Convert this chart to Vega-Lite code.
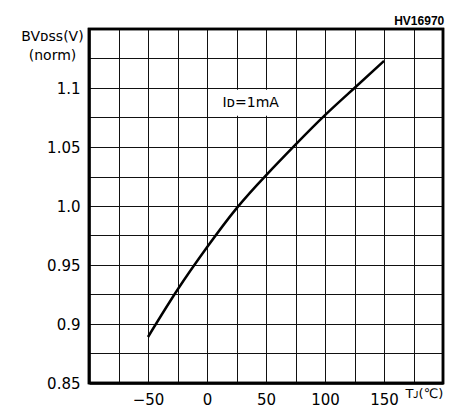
{
  "$schema": "https://vega.github.io/schema/vega-lite/v6.json",
  "width": 354,
  "height": 354,
  "autosize": "none",
  "padding": {"left": 89, "top": 29, "right": 10, "bottom": 33},
  "background": "white",
  "title": {"text": "HV16970", "anchor": "end", "fontSize": 12, "fontWeight": "bold", "font": "Liberation Sans", "offset": 0, "color": "black"},
  "config": {
    "view": {"stroke": "black", "strokeWidth": 2.5},
    "axis": {"labelFont": "DejaVu Sans", "labelFontSize": 15, "labelColor": "black", "titleFont": "DejaVu Sans", "titleFontWeight": "normal", "titleColor": "black", "grid": true, "gridColor": "#111", "gridWidth": 1, "gridOpacity": 1, "ticks": false, "domain": true, "domainColor": "black", "domainWidth": 2.5}
  },
  "datasets": {
    "curve": [
      {"t": -50, "bv": 0.889},
      {"t": -25, "bv": 0.929},
      {"t": 0, "bv": 0.965},
      {"t": 25, "bv": 0.998},
      {"t": 50, "bv": 1.026},
      {"t": 75, "bv": 1.052},
      {"t": 100, "bv": 1.077},
      {"t": 125, "bv": 1.1},
      {"t": 150, "bv": 1.123}
    ],
    "box": [{"t": 12, "t2": 70, "bv": 1.0765, "bv2": 1.0985}],
    "frame": [{"t": -100, "t2": 200, "bv": 0.85, "bv2": 1.15}],
    "note": [{"t": 37, "bv": 1.0875, "label": "Iᴅ=1mA"}]
  },
  "encoding": {
    "x": {"field": "t", "type": "quantitative", "scale": {"domain": [-100, 200], "nice": false, "zero": false},
      "axis": {"values": [-100, -75, -50, -25, 0, 25, 50, 75, 100, 125, 150, 175, 200], "labelFlush": false, "labelPadding": 9,
        "labelExpr": "(datum.value % 50 == 0 && datum.value >= -50 && datum.value <= 150) ? format(datum.value, 'd') : ''",
        "title": "Tᴊ(℃)", "titleFontSize": 13, "titleAnchor": "start", "titleAlign": "left", "titleBaseline": "middle", "titleX": 316, "titleY": 10}},
    "y": {"field": "bv", "type": "quantitative", "scale": {"domain": [0.85, 1.15], "nice": false, "zero": false},
      "axis": {"values": [0.85, 0.875, 0.9, 0.925, 0.95, 0.975, 1, 1.025, 1.05, 1.075, 1.1, 1.125, 1.15], "labelFlush": false, "labelPadding": 9,
        "labelExpr": "(datum.value > 1.14 || round(datum.value * 1000) % 50 != 0) ? '' : (abs(datum.value - 1) < 0.001 ? '1.0' : format(datum.value, '.2~f'))",
        "title": ["BVᴅꜱꜱ(V)", "(norm)"], "titleFontSize": 14, "titleAngle": 0, "titleAlign": "center", "titleBaseline": "top", "titleX": -37, "titleY": 0, "titleLineHeight": 19}}
  },
  "layer": [
    {
      "data": {"name": "box"},
      "mark": {"type": "rect", "fill": "white", "stroke": null},
      "encoding": {
        "x2": {"field": "t2"},
        "y2": {"field": "bv2"}
      }
    },
    {
      "data": {"name": "curve"},
      "mark": {"type": "line", "interpolate": "natural", "color": "black", "strokeWidth": 2.5},
      "encoding": {}
    },
    {
      "data": {"name": "note"},
      "mark": {"type": "text", "font": "DejaVu Sans", "fontSize": 14, "color": "black", "align": "center", "baseline": "middle"},
      "encoding": {
        "text": {"field": "label"}
      }
    },
    {
      "data": {"name": "frame"},
      "mark": {"type": "rect", "fill": null, "fillOpacity": 0, "stroke": "black", "strokeWidth": 2.5},
      "encoding": {
        "x2": {"field": "t2"},
        "y2": {"field": "bv2"}
      }
    }
  ]
}
